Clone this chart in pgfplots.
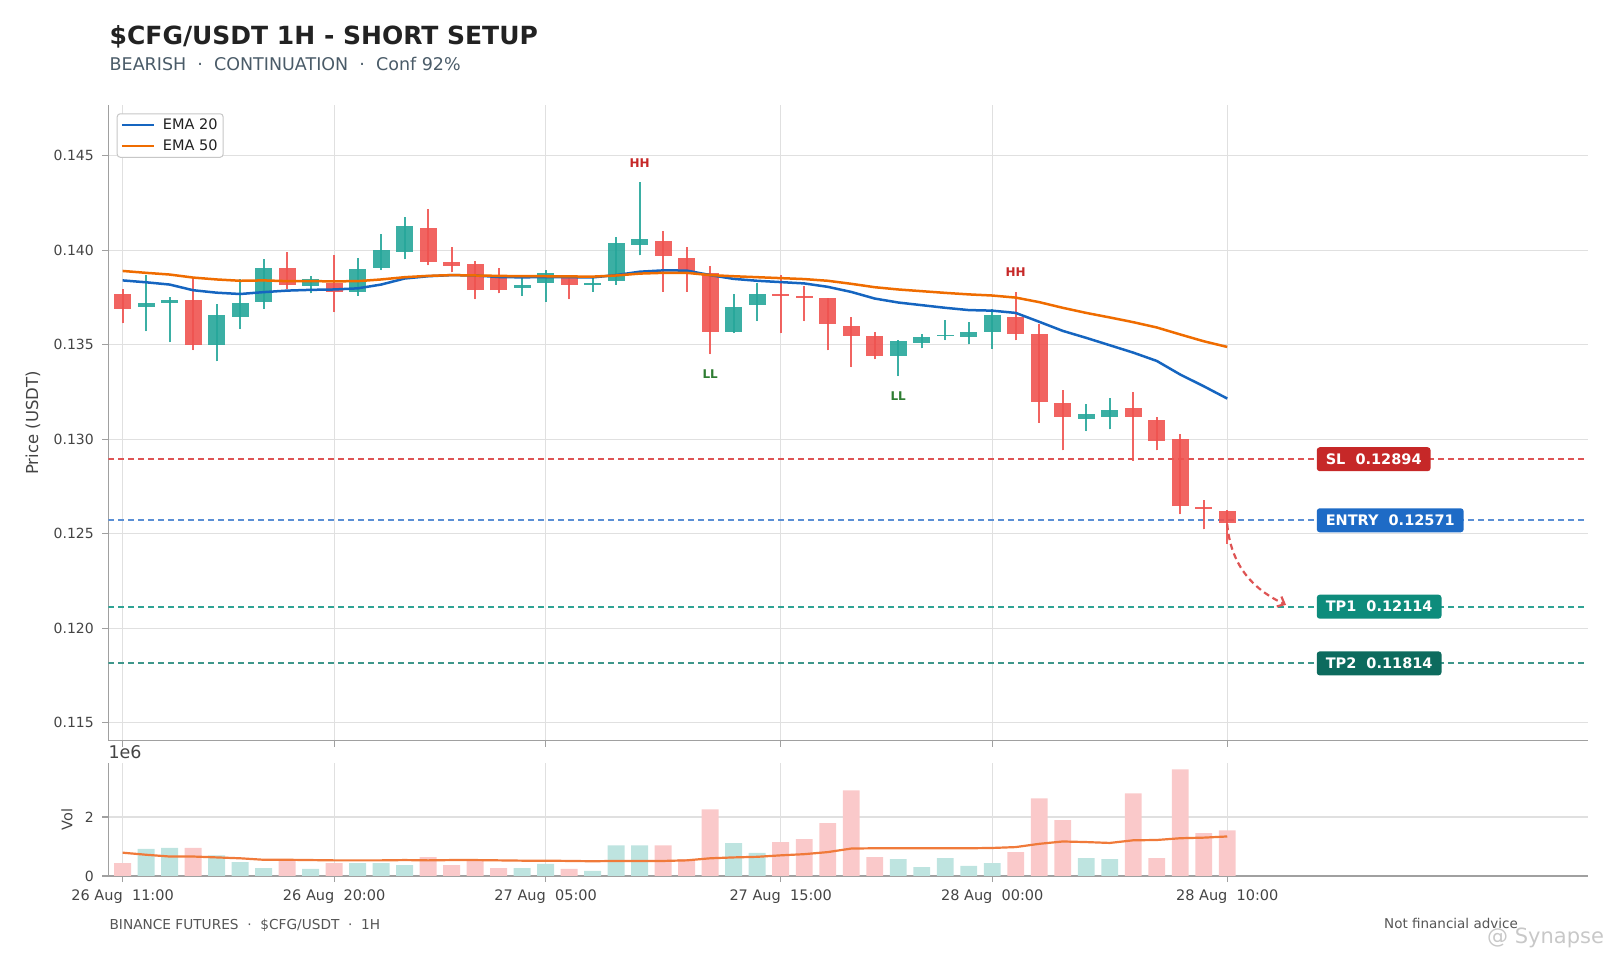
\documentclass[border=0pt]{standalone}
\usepackage{pgfplots}
\pgfplotsset{compat=1.18}
\usepackage{pgfplotstable}
\usepackage{fontspec}
\setmainfont{DejaVu Sans}
\usetikzlibrary{arrows.meta}
\definecolor{cgreen}{HTML}{26A69A}
\definecolor{cred}{HTML}{EF5350}
\definecolor{vgreen}{HTML}{BEE4E0}
\definecolor{vred}{HTML}{FAC9CA}
\definecolor{ema20}{HTML}{1565C0}
\definecolor{ema50}{HTML}{EF6C00}
\definecolor{vma}{HTML}{F07A3A}
\definecolor{gridc}{HTML}{E0E0E0}
\definecolor{spine}{HTML}{A0A0A0}
\definecolor{tickc}{HTML}{444444}
\definecolor{titlec}{HTML}{222222}
\definecolor{subc}{HTML}{4A5B68}
\definecolor{footc}{HTML}{555555}
\definecolor{slc}{HTML}{C62828}
\definecolor{enc}{HTML}{1E6BC6}
\definecolor{tp1c}{HTML}{0E8C7C}
\definecolor{tp2c}{HTML}{0D6B5E}
\definecolor{slline}{HTML}{DE5454}
\definecolor{enline}{HTML}{5A8FD5}
\definecolor{tp1line}{HTML}{30A394}
\definecolor{tp2line}{HTML}{3E968B}
\definecolor{hhc}{HTML}{C62828}
\definecolor{llc}{HTML}{2E7D32}
\definecolor{wmc}{HTML}{C8C8C8}

\pgfplotstableread{
x o h l c v
1 0.13700 0.13869 0.13571 0.13718 0.92
2 0.13721 0.13750 0.13513 0.13735 0.95
4 0.13499 0.13713 0.13413 0.13656 0.70
5 0.13647 0.13850 0.13582 0.13723 0.47
6 0.13727 0.13951 0.13691 0.13905 0.27
8 0.13811 0.13862 0.13771 0.13845 0.24
10 0.13780 0.13961 0.13760 0.13899 0.44
11 0.13907 0.14083 0.13894 0.14000 0.44
12 0.13991 0.14173 0.13952 0.14127 0.37
17 0.13801 0.13859 0.13760 0.13815 0.27
18 0.13827 0.13894 0.13728 0.13877 0.41
20 0.13815 0.13855 0.13781 0.13825 0.17
21 0.13838 0.14072 0.13818 0.14037 1.04
22 0.14028 0.14360 0.13972 0.14058 1.04
26 0.13568 0.13769 0.13561 0.13698 1.11
27 0.13711 0.13827 0.13624 0.13767 0.78
33 0.13441 0.13524 0.13333 0.13518 0.57
34 0.13509 0.13557 0.13481 0.13543 0.30
35 0.13546 0.13629 0.13524 0.13553 0.61
36 0.13541 0.13621 0.13501 0.13566 0.34
37 0.13568 0.13688 0.13479 0.13656 0.44
41 0.13109 0.13186 0.13042 0.13135 0.61
42 0.13118 0.13218 0.13052 0.13156 0.57
}\greentab

\pgfplotstableread{
x o h l c v
0 0.13767 0.13792 0.13614 0.13690 0.44
3 0.13735 0.13859 0.13471 0.13499 0.95
7 0.13905 0.13991 0.13794 0.13817 0.56
9 0.13824 0.13972 0.13672 0.13780 0.44
13 0.14116 0.14220 0.13919 0.13938 0.64
14 0.13937 0.14018 0.13882 0.13917 0.37
15 0.13926 0.13940 0.13739 0.13788 0.56
16 0.13862 0.13908 0.13771 0.13788 0.27
19 0.13864 0.13869 0.13739 0.13817 0.24
23 0.14048 0.14099 0.13781 0.13970 1.04
24 0.13958 0.14019 0.13781 0.13891 0.57
25 0.13877 0.13917 0.13450 0.13568 2.26
28 0.13767 0.13869 0.13561 0.13758 1.15
29 0.13756 0.13811 0.13624 0.13748 1.25
30 0.13746 0.13749 0.13471 0.13610 1.79
31 0.13598 0.13647 0.13381 0.13546 2.90
32 0.13545 0.13568 0.13423 0.13441 0.64
38 0.13644 0.13779 0.13524 0.13557 0.81
39 0.13554 0.13608 0.13088 0.13197 2.63
40 0.13194 0.13259 0.12941 0.13118 1.89
43 0.13167 0.13248 0.12885 0.13118 2.80
44 0.13104 0.13118 0.12941 0.12991 0.61
45 0.13003 0.13026 0.12602 0.12646 3.61
46 0.12643 0.12677 0.12523 0.12631 1.45
47 0.12618 0.12624 0.12447 0.12557 1.55
}\redtab

\pgfplotstableread{
x e20 e50 vma
0 0.13840 0.13890 0.79
1 0.13830 0.13880 0.72
2 0.13818 0.13871 0.66
3 0.13788 0.13855 0.66
4 0.13775 0.13845 0.63
5 0.13768 0.13838 0.60
6 0.13778 0.13840 0.55
7 0.13786 0.13836 0.55
8 0.13790 0.13836 0.54
9 0.13792 0.13835 0.53
10 0.13798 0.13836 0.53
11 0.13818 0.13845 0.53
12 0.13850 0.13857 0.54
13 0.13862 0.13864 0.53
14 0.13868 0.13868 0.54
15 0.13866 0.13866 0.54
16 0.13858 0.13864 0.53
17 0.13856 0.13862 0.52
18 0.13858 0.13862 0.52
19 0.13857 0.13861 0.51
20 0.13856 0.13860 0.50
21 0.13868 0.13866 0.51
22 0.13886 0.13876 0.51
23 0.13893 0.13880 0.51
24 0.13892 0.13880 0.53
25 0.13868 0.13868 0.60
26 0.13848 0.13862 0.63
27 0.13838 0.13857 0.65
28 0.13831 0.13852 0.70
29 0.13824 0.13847 0.74
30 0.13806 0.13838 0.81
31 0.13779 0.13822 0.93
32 0.13744 0.13804 0.94
33 0.13723 0.13792 0.94
34 0.13709 0.13783 0.94
35 0.13695 0.13774 0.94
36 0.13683 0.13766 0.94
37 0.13680 0.13760 0.95
38 0.13668 0.13749 0.98
39 0.13621 0.13725 1.09
40 0.13573 0.13695 1.17
41 0.13536 0.13668 1.15
42 0.13497 0.13644 1.12
43 0.13458 0.13619 1.21
44 0.13414 0.13591 1.22
45 0.13342 0.13554 1.28
46 0.13280 0.13518 1.30
47 0.13215 0.13488 1.34
}\linetab

\newcommand\fsz[1]{\fontsize{#1bp}{#1bp}\selectfont}

\pgfplotsset{
  chartbase/.style={
    scale only axis, width=1479.7bp,
    xmin=-0.61, xmax=62.35,
    axis x line*=bottom, axis y line*=left,
    axis line style={draw=spine, line width=1.4bp, -},
    tick align=outside, major tick length=6bp,
    tick style={draw=spine, line width=1.2bp},
    grid=major, grid style={draw=gridc, line width=1.3bp},
    xtick={0,9,18,28,37,47},
    xticklabel style={font=\fsz{14.5}, text=tickc, yshift=-4bp},
    yticklabel style={font=\fsz{14}, text=tickc, xshift=-5bp},
    /pgf/number format/assume math mode=true,
    clip mode=individual,
  },
  wick/.style={forget plot, only marks, mark=*, mark size=0pt, mark options={draw=none, fill=none},
    error bars/.cd, y dir=plus, y explicit, error mark=none,
    error bar style={draw=#1, draw opacity=0.9, line width=2.2bp}},
  body/.style={forget plot, only marks, mark=*, mark size=0pt, mark options={draw=none, fill=none},
    error bars/.cd, y dir=plus, y explicit, error mark=none,
    error bar style={draw=#1, draw opacity=0.9, line width=17bp}},
}

\begin{document}
\begin{tikzpicture}[x=1bp,y=1bp]
\path[use as bounding box] (0,0) rectangle (1612,957);

\node[anchor=base west, inner sep=0pt, text=titlec, font=\fsz{25}\bfseries] at (109.5,912.5) {\$CFG/USDT 1H - SHORT SETUP};
\node[anchor=base west, inner sep=0pt, text=subc, font=\fsz{17.5}] at (109.5,886) {BEARISH~~·~~CONTINUATION~~·~~Conf 92\%};

\node[rotate=90, text=tickc, font=\fsz{16.5}] at (33,534) {Price (USDT)};
\node[rotate=90, text=tickc, font=\fsz{14.5}] at (67,137.6) {Vol};
\node[anchor=base west, inner sep=0pt, text=tickc, font=\fsz{17.5}] at (108.3,198.7) {1e6};

\node[anchor=base west, inner sep=0pt, text=footc, font=\fsz{13.7}] at (109.4,28) {BINANCE FUTURES~~·~~\$CFG/USDT~~·~~1H};
\node[anchor=base east, inner sep=0pt, text=footc, font=\fsz{13.5}] at (1518,28.5) {Not financial advice};
\node[anchor=base west, inner sep=0pt, text=wmc, font=\fsz{21}] at (1487,14) {@ Synapse};

% price panel
\begin{axis}[chartbase,
  at={(108.3bp,216.3bp)}, anchor=south west, height=635.7bp,
  ymin=0.11405, ymax=0.14768,
  xticklabels={},
  ytick={0.115,0.12,0.125,0.13,0.135,0.14,0.145},
  yticklabels={0.115,0.120,0.125,0.130,0.135,0.140,0.145},
  legend style={at={(0.0057,0.98695)}, anchor=north west, draw=black!22, line width=1bp,
    rounded corners=3bp, font=\fsz{14.5}, text=titlec, inner xsep=3.5bp, inner ysep=3bp,
    nodes={inner sep=2bp}, column sep=6bp, row sep=5bp},
  legend cell align=left,
  legend image code/.code={\draw[#1, line width=2.2bp] (0bp,0bp) -- (32bp,0bp);},
]
\addplot[forget plot, slline, dash pattern=on 6bp off 4bp, line width=1.7bp] coordinates {(-0.61,0.12894) (62.35,0.12894)};
\addplot[forget plot, enline, dash pattern=on 6bp off 4bp, line width=1.7bp] coordinates {(-0.61,0.12571) (62.35,0.12571)};
\addplot[forget plot, tp1line, dash pattern=on 6bp off 4bp, line width=1.7bp] coordinates {(-0.61,0.12114) (62.35,0.12114)};
\addplot[forget plot, tp2line, dash pattern=on 6bp off 4bp, line width=1.8bp] coordinates {(-0.61,0.11814) (62.35,0.11814)};

\addplot[wick=cgreen] table[x=x, y=l, y error plus expr=\thisrow{h}-\thisrow{l}] {\greentab};
\addplot[wick=cred] table[x=x, y=l, y error plus expr=\thisrow{h}-\thisrow{l}] {\redtab};
\addplot[body=cgreen] table[x=x, y=o, y error plus expr=\thisrow{c}-\thisrow{o}] {\greentab};
\addplot[body=cred] table[x=x, y=c, y error plus expr=\thisrow{o}-\thisrow{c}] {\redtab};

\addplot[ema20, line width=2.5bp] table[x=x, y=e20] {\linetab};
\addlegendentry{EMA 20}
\addplot[ema50, line width=2.5bp] table[x=x, y=e50] {\linetab};
\addlegendentry{EMA 50}

\node[text=hhc, font=\fsz{12}\bfseries] at (axis cs:22,0.14463) {HH};
\node[text=hhc, font=\fsz{12}\bfseries] at (axis cs:38,0.13884) {HH};
\node[text=llc, font=\fsz{12}\bfseries] at (axis cs:25,0.13345) {LL};
\node[text=llc, font=\fsz{12}\bfseries] at (axis cs:33,0.13230) {LL};

\draw[slline, line width=2.2bp, dash pattern=on 6bp off 4bp, -{Straight Barb[length=6bp, width=11bp]}]
  (axis cs:47,0.12550) to[out=-85, in=155] (axis cs:49.5,0.12124);

\node[anchor=west, fill=slc, text=white, font=\fsz{14.5}\bfseries, rounded corners=3bp, minimum height=24bp, inner xsep=9bp, inner ysep=0pt] at (axis cs:50.8,0.12894) {SL~~0.12894};
\node[anchor=west, fill=enc, text=white, font=\fsz{14.5}\bfseries, rounded corners=3bp, minimum height=24bp, inner xsep=9bp, inner ysep=0pt] at (axis cs:50.8,0.12571) {ENTRY~~0.12571};
\node[anchor=west, fill=tp1c, text=white, font=\fsz{14.5}\bfseries, rounded corners=3bp, minimum height=24bp, inner xsep=9bp, inner ysep=0pt] at (axis cs:50.8,0.12114) {TP1~~0.12114};
\node[anchor=west, fill=tp2c, text=white, font=\fsz{14.5}\bfseries, rounded corners=3bp, minimum height=24bp, inner xsep=9bp, inner ysep=0pt] at (axis cs:50.8,0.11814) {TP2~~0.11814};
\end{axis}

% volume panel
\begin{axis}[chartbase,
  at={(108.3bp,81bp)}, anchor=south west, height=113.3bp,
  ymin=0, ymax=3.84,
  ytick={0,2}, yticklabels={0,2},
  xticklabels={26 Aug~~11:00,26 Aug~~20:00,27 Aug~~05:00,27 Aug~~15:00,28 Aug~~00:00,28 Aug~~10:00},
]
\addplot[forget plot, ybar, bar width=0.72, bar shift=0pt, fill=vgreen, draw=none] table[x=x, y=v] {\greentab};
\addplot[forget plot, ybar, bar width=0.72, bar shift=0pt, fill=vred, draw=none] table[x=x, y=v] {\redtab};
\addplot[forget plot, vma, line width=2.2bp] table[x=x, y=vma] {\linetab};
\end{axis}
\end{tikzpicture}
\end{document}
